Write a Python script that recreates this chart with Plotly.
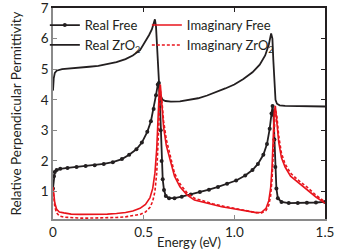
import plotly.graph_objects as go

# ---------------- data ----------------
E_real_free = [0.0, 0.005, 0.01, 0.02, 0.04, 0.08, 0.13, 0.18, 0.23, 0.28, 0.33, 0.38, 0.42, 0.46,
               0.49, 0.52, 0.54, 0.555, 0.568, 0.578, 0.584, 0.589, 0.594, 0.599, 0.605, 0.612,
               0.622, 0.64, 0.67, 0.71, 0.76, 0.81, 0.86, 0.91, 0.96, 1.01, 1.06, 1.1, 1.13, 1.16,
               1.18, 1.195, 1.205, 1.211, 1.216, 1.221, 1.226, 1.232, 1.24, 1.26, 1.3, 1.35, 1.4,
               1.45, 1.5]
real_free = [1.1, 1.5, 1.64, 1.7, 1.74, 1.77, 1.8, 1.83, 1.86, 1.9, 1.96, 2.06, 2.2, 2.38,
             2.6, 2.95, 3.3, 3.7, 4.15, 4.5, 4.55, 4.0, 3.0, 2.0, 1.4, 1.05,
             0.85, 0.78, 0.78, 0.83, 0.9, 0.98, 1.06, 1.15, 1.25, 1.36, 1.52, 1.7, 1.9, 2.2,
             2.55, 3.05, 3.55, 3.8, 3.5, 2.7, 1.8, 1.1, 0.78, 0.66, 0.62, 0.62, 0.63,
             0.64, 0.66]

E_real_zro2 = [0.0, 0.004, 0.01, 0.02, 0.05, 0.1, 0.15, 0.2, 0.25, 0.3, 0.35, 0.4, 0.44, 0.48,
               0.51, 0.53, 0.545, 0.555, 0.562, 0.568, 0.574, 0.58, 0.587, 0.595, 0.605, 0.62,
               0.65, 0.7, 0.75, 0.8, 0.85, 0.9, 0.95, 1.0, 1.05, 1.1, 1.14, 1.17, 1.19, 1.203,
               1.21, 1.215, 1.22, 1.227, 1.235, 1.25, 1.28, 1.32, 1.4, 1.5]
real_zro2 = [4.3, 4.7, 4.88, 4.95, 5.0, 5.02, 5.05, 5.08, 5.11, 5.16, 5.23, 5.33, 5.45, 5.62,
             5.9, 6.12, 6.3, 6.5, 6.63, 6.4, 5.6, 4.8, 4.3, 4.1, 4.0, 3.96,
             3.94, 3.95, 3.99, 4.05, 4.14, 4.25, 4.37, 4.5, 4.68, 4.9, 5.15, 5.45, 5.8, 6.17,
             6.0, 5.3, 4.5, 4.0, 3.87, 3.82, 3.8, 3.8, 3.78, 3.78]

E_imag = [0.0, 0.005, 0.01, 0.02, 0.035, 0.06, 0.1, 0.15, 0.2, 0.25, 0.3, 0.35, 0.4, 0.44,
          0.48, 0.51, 0.535, 0.55, 0.562, 0.572, 0.58, 0.586, 0.592, 0.6, 0.61, 0.625, 0.645,
          0.67, 0.7, 0.74, 0.78, 0.83, 0.88, 0.93, 0.98, 1.03, 1.08, 1.12, 1.15, 1.175, 1.19,
          1.2, 1.208, 1.214, 1.22, 1.226, 1.234, 1.245, 1.26, 1.28, 1.31, 1.35, 1.4, 1.45, 1.5]
imag_free = [1.15, 0.85, 0.62, 0.42, 0.33, 0.3, 0.26, 0.25, 0.25, 0.25, 0.26, 0.28, 0.31, 0.36,
             0.45, 0.58, 0.8, 1.1, 1.6, 2.4, 3.4, 4.3, 4.5, 3.8, 3.1, 2.5, 2.05,
             1.5, 1.15, 0.88, 0.72, 0.64, 0.56, 0.5, 0.45, 0.4, 0.34, 0.31, 0.32, 0.45, 0.7,
             1.1, 1.8, 2.8, 3.6, 3.8, 3.3, 2.6, 2.1, 1.8, 1.5, 1.3, 1.08, 0.82, 0.62]
imag_zro2 = [1.1, 0.75, 0.5, 0.3, 0.2, 0.16, 0.14, 0.13, 0.13, 0.13, 0.14, 0.15, 0.17, 0.2,
             0.25, 0.33, 0.48, 0.68, 1.0, 1.6, 2.5, 3.5, 4.3, 4.0, 3.3, 2.7, 2.2,
             1.6, 1.25, 0.95, 0.78, 0.68, 0.6, 0.53, 0.47, 0.41, 0.35, 0.31, 0.3, 0.38, 0.55,
             0.85, 1.4, 2.3, 3.3, 3.7, 3.5, 2.8, 2.25, 1.9, 1.6, 1.38, 1.15, 0.88, 0.66]

x_tick_vals = [0, 0.5, 1.0, 1.5]
x_tick_text = ["0", "0.5", "1.0", "1.5"]
y_tick_vals = [1, 2, 3, 4, 5, 6, 7]

BLACK = "#231f20"
RED = "#e8141c"
FONT = "Lato"

fig = go.Figure()
fig.add_trace(go.Scatter(x=E_real_free, y=real_free, mode="lines+markers", name="Real Free",
                         line=dict(color=BLACK, width=1.8), marker=dict(size=4, color=BLACK),
                         legend="legend"))
fig.add_trace(go.Scatter(x=E_real_zro2, y=real_zro2, mode="lines", name="Real ZrO<sub>2</sub>",
                         line=dict(color=BLACK, width=1.8), legend="legend"))
fig.add_trace(go.Scatter(x=E_imag, y=imag_free, mode="lines", name="Imaginary Free",
                         line=dict(color=RED, width=1.6), legend="legend2"))
fig.add_trace(go.Scatter(x=E_imag, y=imag_zro2, mode="lines", name="Imaginary ZrO<sub>2</sub>",
                         line=dict(color=RED, width=1.6, dash="3px,2px"), legend="legend2"))
# empty trace to materialise the black top/right frame axes
fig.add_trace(go.Scatter(x=[], y=[], xaxis="x2", yaxis="y2", showlegend=False))

axis_common = dict(showgrid=False, zeroline=False, ticks="inside", ticklen=4, tickwidth=1,
                   showline=True, linewidth=1.5, automargin=False)
fig.update_layout(
    width=350, height=250,
    margin=dict(l=53, r=25, t=8, b=31),
    paper_bgcolor="white", plot_bgcolor="white",
    font=dict(family=FONT, size=13, color=BLACK),
    xaxis=dict(range=[0, 1.5], tickvals=x_tick_vals, ticktext=x_tick_text,
               linecolor="#8a8a8a", tickcolor="#8a8a8a", tickfont=dict(size=13.5),
               ticklabeloverflow="allow",
               title=dict(text="Energy (eV)", font=dict(size=13), standoff=0), **axis_common),
    yaxis=dict(range=[0.1, 7.002], tickvals=y_tick_vals,
               linecolor="#8a8a8a", tickcolor="#8a8a8a", tickfont=dict(size=13.5),
               ticklabeloverflow="allow",
               title=dict(text="Relative Perpendicular Permittivity", font=dict(size=13.5), standoff=16),
               **axis_common),
    xaxis2=dict(range=[0, 1.5], overlaying="x", side="top", anchor="y2", tickvals=x_tick_vals,
                showticklabels=False, linecolor=BLACK, tickcolor=BLACK, **axis_common),
    yaxis2=dict(range=[0.1, 7.002], overlaying="y", side="right", anchor="x2", tickvals=y_tick_vals,
                showticklabels=False, linecolor=BLACK, tickcolor=BLACK, **axis_common),
    legend=dict(x=-0.03, y=0.99, xanchor="left", yanchor="top", bgcolor="rgba(0,0,0,0)",
                font=dict(size=13), tracegroupgap=0, itemwidth=30),
    legend2=dict(x=0.345, y=0.99, xanchor="left", yanchor="top", bgcolor="rgba(0,0,0,0)",
                 font=dict(size=13), tracegroupgap=0, itemwidth=30),
)

fig.write_html("out.html", config={"displayModeBar": False},
               post_script="document.body.style.margin='0px';")
